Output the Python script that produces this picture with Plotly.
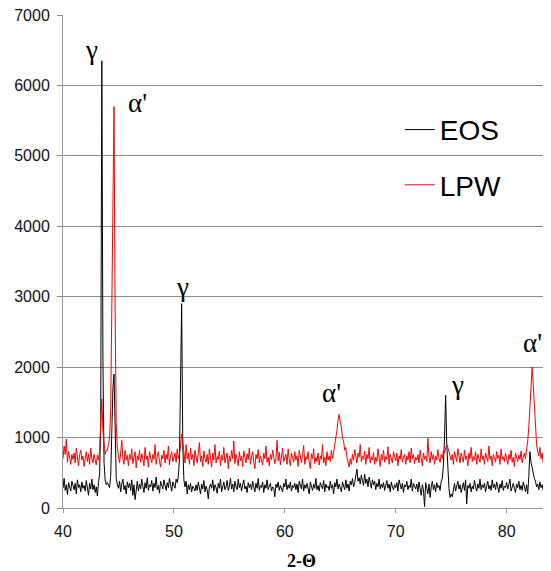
import plotly.graph_objects as go

# 2-theta grid (step 0.1 deg, 40.0 .. 84.0)
two_theta = [round(40 + i * 0.1, 1) for i in range(441)]

eos = [
    280, 420, 250, 330, 190, 360, 300, 240, 380, 310,   # 40
    260, 350, 200, 400, 290, 330, 230, 370, 280, 320,   # 41
    240, 390, 300, 180, 350, 270, 410, 260, 330, 220,   # 42
    300, 170, 360, 480, 1200, 6350, 2100, 650, 400, 330,  # 43
    360, 330, 290, 450, 1100, 1700, 1900, 800, 420, 330,  # 44
    280, 380, 230, 340, 410, 260, 320, 200, 370, 290,   # 45
    350, 250, 400, 180, 330, 120, 300, 380, 240, 340,   # 46
    270, 410, 310, 220, 360, 280, 430, 250, 330, 300,   # 47
    390, 240, 350, 290, 440, 260, 320, 210, 380, 310,   # 48
    270, 400, 330, 250, 360, 290, 420, 310, 240, 370,   # 49
    320, 280, 410, 360, 450, 700, 1800, 2900, 900, 400,  # 50
    300, 380, 200, 330, 260, 350, 230, 310, 280, 240,   # 51
    330, 250, 370, 290, 200, 340, 270, 390, 230, 310,   # 52
    260, 130, 300, 340, 280, 400, 240, 330, 290, 210,   # 53
    350, 280, 410, 230, 320, 370, 260, 300, 390, 250,   # 54
    310, 420, 270, 340, 230, 380, 300, 260, 410, 290,   # 55
    350, 240, 330, 400, 270, 310, 220, 360, 290, 340,   # 56
    260, 380, 300, 230, 350, 280, 420, 250, 320, 290,   # 57
    370, 220, 330, 280, 400, 260, 310, 350, 240, 300,   # 58
    280, 160, 340, 290, 370, 250, 320, 280, 230, 350,   # 59
    300, 410, 260, 330, 280, 370, 240, 320, 290, 350,   # 60
    260, 340, 220, 380, 300, 270, 410, 240, 330, 280,   # 61
    350, 290, 200, 370, 310, 250, 340, 280, 420, 260,   # 62
    320, 240, 360, 300, 270, 390, 230, 340, 290, 310,   # 63
    250, 380, 280, 330, 200, 360, 300, 410, 270, 340,   # 64
    290, 230, 370, 310, 260, 400, 280, 340, 240, 380,   # 65
    330, 420, 300, 360, 450, 550, 380, 430, 340, 470,   # 66
    390, 320, 480, 350, 410, 300, 440, 360, 280, 400,   # 67
    330, 380, 260, 350, 300, 410, 270, 340, 290, 360,   # 68
    250, 320, 390, 280, 340, 230, 370, 300, 260, 330,   # 69
    290, 360, 240, 400, 310, 270, 350, 220, 330, 300,   # 70
    380, 260, 320, 290, 410, 240, 350, 300, 270, 340,   # 71
    230, 370, 290, 180, 330, 260, 20, 360, 280, 200,    # 72
    340, 150, 300, 380, 260, 330, 230, 360, 290, 320,   # 73
    250, 380, 420, 600, 1000, 1600, 900, 450, 280, 150,  # 74
    200, 160, 280, 350, 240, 310, 380, 270, 330, 220,   # 75
    300, 360, 250, 400, 60, 320, 280, 350, 230, 310,    # 76
    270, 390, 300, 240, 340, 280, 410, 260, 330, 290,   # 77
    350, 230, 310, 380, 270, 320, 250, 400, 290, 340,   # 78
    260, 370, 300, 220, 340, 280, 390, 250, 310, 290,   # 79
    360, 270, 330, 410, 240, 300, 350, 280, 220, 340,   # 80
    290, 380, 260, 320, 250, 370, 300, 230, 330, 200,   # 81
    450, 800, 650, 560, 520, 420, 380, 300, 340, 260,   # 82
    370, 290, 330, 250, 400, 310, 270, 360, 300, 340,   # 83
    280,                                                # 84
]

lpw = [
    700, 880, 760, 980, 650, 800, 720, 620, 760, 690,   # 40
    780, 640, 850, 700, 600, 760, 820, 680, 740, 590,   # 41
    720, 800, 660, 770, 620, 850, 700, 640, 760, 690,   # 42
    610, 750, 680, 820, 1200, 1550, 1100, 850, 760, 820,  # 43
    820, 900, 1000, 1400, 2600, 4300, 5700, 2800, 1200, 850,  # 44
    720, 640, 780, 960, 700, 620, 820, 680, 750, 600,   # 45
    760, 690, 840, 630, 720, 800, 570, 740, 680, 820,   # 46
    650, 770, 700, 600, 860, 690, 740, 580, 800, 710,   # 47
    640, 760, 690, 900, 620, 730, 800, 660, 580, 750,   # 48
    700, 820, 640, 760, 690, 880, 610, 740, 800, 660,   # 49
    720, 780, 650, 840, 700, 760, 880, 1050, 950, 760,  # 50
    640, 900, 700, 780, 620, 850, 690, 760, 600, 820,   # 51
    700, 640, 780, 930, 660, 740, 590, 810, 700, 650,   # 52
    760, 620, 840, 700, 580, 780, 680, 900, 640, 730,   # 53
    690, 810, 600, 750, 680, 860, 640, 720, 780, 560,   # 54
    740, 660, 820, 700, 950, 630, 760, 690, 600, 800,   # 55
    670, 740, 590, 810, 700, 640, 770, 690, 850, 620,   # 56
    720, 800, 650, 560, 760, 700, 830, 640, 740, 690,   # 57
    610, 780, 700, 880, 650, 720, 600, 760, 690, 820,   # 58
    740, 630, 700, 960, 670, 790, 610, 720, 850, 660,   # 59
    700, 760, 620, 840, 690, 600, 780, 710, 650, 800,   # 60
    680, 740, 590, 820, 700, 640, 760, 890, 620, 730,   # 61
    690, 800, 650, 560, 770, 700, 840, 630, 720, 660,   # 62
    780, 610, 740, 690, 900, 640, 720, 600, 800, 680,   # 63
    740, 660, 820, 700, 790, 880, 1000, 1100, 1250, 1330,  # 64
    1220, 1150, 1000, 950, 820, 860, 720, 650, 580, 700,  # 65
    620, 760, 680, 830, 700, 640, 780, 720, 900, 660,   # 66
    740, 690, 810, 620, 760, 700, 860, 640, 730, 680,   # 67
    790, 620, 720, 660, 840, 700, 590, 760, 680, 820,   # 68
    650, 730, 690, 870, 620, 760, 700, 640, 800, 710,   # 69
    670, 780, 600, 740, 690, 830, 650, 720, 760, 620,   # 70
    740, 680, 800, 640, 850, 700, 760, 630, 720, 680,   # 71
    760, 640, 820, 700, 600, 780, 690, 740, 660, 990,   # 72
    720, 640, 800, 690, 760, 620, 740, 680, 830, 700,   # 73
    650, 760, 700, 820, 780, 850, 900, 860, 800, 720,   # 74
    680, 760, 620, 800, 700, 660, 840, 720, 640, 780,   # 75
    700, 650, 820, 690, 740, 600, 780, 700, 860, 660,   # 76
    730, 680, 800, 620, 760, 700, 650, 840, 690, 740,   # 77
    620, 780, 700, 660, 880, 690, 740, 600, 760, 700,   # 78
    650, 800, 700, 750, 620, 840, 690, 730, 660, 780,   # 79
    700, 620, 760, 690, 820, 650, 720, 590, 780, 700,   # 80
    660, 750, 690, 810, 640, 720, 780, 700, 820, 950,   # 81
    1150, 1500, 1800, 2000, 1750, 1400, 1100, 900, 800, 740,  # 82
    860, 700, 780, 640, 900, 720, 680, 820, 600, 760,   # 83
    720,                                                # 84
]

series_names = ["EOS", "LPW"]
series_colors = ["#000000", "#ff0000"]

peak_labels = ["γ", "α'", "γ", "α'", "γ", "α'"]
peak_x = [42.6, 46.75, 50.75, 64.2, 75.6, 82.3]
peak_y = [6500, 5750, 3140, 1630, 1750, 2340]

x_ticks = [40, 50, 60, 70, 80]
y_ticks = [0, 1000, 2000, 3000, 4000, 5000, 6000, 7000]

fig = go.Figure()
fig.add_trace(go.Scatter(x=two_theta, y=eos, mode="lines", name=series_names[0],
                         line=dict(color=series_colors[0], width=1), legend="legend"))
fig.add_trace(go.Scatter(x=two_theta, y=lpw, mode="lines", name=series_names[1],
                         line=dict(color=series_colors[1], width=1), legend="legend2"))

for lab, px, py in zip(peak_labels, peak_x, peak_y):
    fig.add_annotation(x=px, y=py, text=lab, showarrow=False,
                       font=dict(family="Liberation Serif", size=27, color="#000"))

fig.add_annotation(x=61.5, y=0, xref="x", yref="paper", yanchor="middle", yshift=-53,
                   text="<b>2-Θ</b>", showarrow=False,
                   font=dict(family="Liberation Serif", size=18, color="#000"))

legend_common = dict(bgcolor="rgba(0,0,0,0)", font=dict(family="Liberation Sans", size=28, color="#000"),
                     xanchor="left", yanchor="middle", itemwidth=30)
tick_font = dict(family="Liberation Sans", size=16, color="#111")
# page body has an 8px default margin: figure is sized to fit the 551x571 window
fig.update_layout(
    width=543, height=563,
    margin=dict(l=55, r=0, t=7, b=63),
    paper_bgcolor="white", plot_bgcolor="white",
    showlegend=True,
    legend=dict(x=0.69, y=0.767, **legend_common),
    legend2=dict(x=0.69, y=0.655, **legend_common),
    xaxis=dict(range=[40, 84], tickvals=x_ticks, showgrid=False, zeroline=False, automargin=False,
               showline=True, linecolor="#999", linewidth=1,
               ticks="outside", ticklen=4, tickcolor="#999",
               ticklabeloverflow="allow", ticklabelstandoff=5, tickfont=tick_font),
    yaxis=dict(range=[0, 7000], tickvals=y_ticks, showgrid=True, gridcolor="#8c8c8c", gridwidth=1,
               zeroline=False, showline=True, linecolor="#999", linewidth=1, automargin=False,
               ticks="outside", ticklen=5, tickcolor="#8c8c8c",
               ticklabeloverflow="allow", ticklabelstandoff=4, tickfont=tick_font),
)

fig.write_html("out.html")
